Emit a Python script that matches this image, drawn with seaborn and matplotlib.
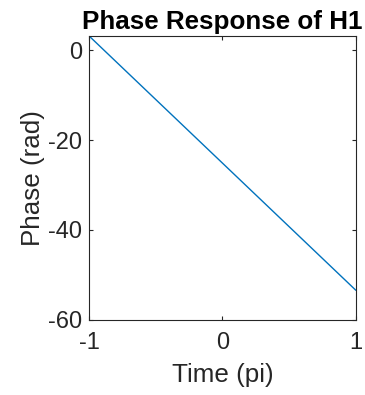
import numpy as np
import pandas as pd
import matplotlib
matplotlib.use("Agg")
import matplotlib.pyplot as plt
import seaborn as sns

# Normalised frequency (units of pi) and unwrapped phase of H1
freq = [-1.0, 1.0]
phase = [np.pi, -17 * np.pi]

x_ticks = [-1, 0, 1]
y_ticks = [-60, -40, -20, 0]

sns.set_style("ticks")
plt.rcParams["font.family"] = ["Liberation Sans", "DejaVu Sans"]

df = pd.DataFrame({"freq": freq, "phase": phase})

fig = plt.figure(figsize=(3.65, 3.95), dpi=100)
ax = fig.add_axes([0.244, 0.19, 0.731, 0.719])

sns.lineplot(data=df, x="freq", y="phase", ax=ax, color="#0072BD", linewidth=1.0)

ax.set_xlim(-1, 1)
ax.set_ylim(-60, np.pi)
ax.set_xticks(x_ticks)
ax.set_yticks(y_ticks)
ax.set_xticklabels([str(t) for t in x_ticks])
ax.set_yticklabels([str(t) for t in y_ticks])

dark = "#262626"
for s in ax.spines.values():
    s.set_visible(True)
    s.set_color(dark)
    s.set_linewidth(0.8)
ax.tick_params(direction="in", length=3, width=0.8, colors=dark,
               labelsize=17, top=True, right=True)
ax.tick_params(axis="x", pad=9)
ax.tick_params(axis="y", pad=5)

ax.set_xlabel("Time (pi)", fontsize=18.7, color=dark, labelpad=6)
ax.set_ylabel("Phase (rad)", fontsize=18.7, color=dark, labelpad=2)
ax.set_title("Phase Response of H1", fontsize=18.7, fontweight="bold",
             color="black", pad=5)

fig.savefig("out.png", dpi=100)
